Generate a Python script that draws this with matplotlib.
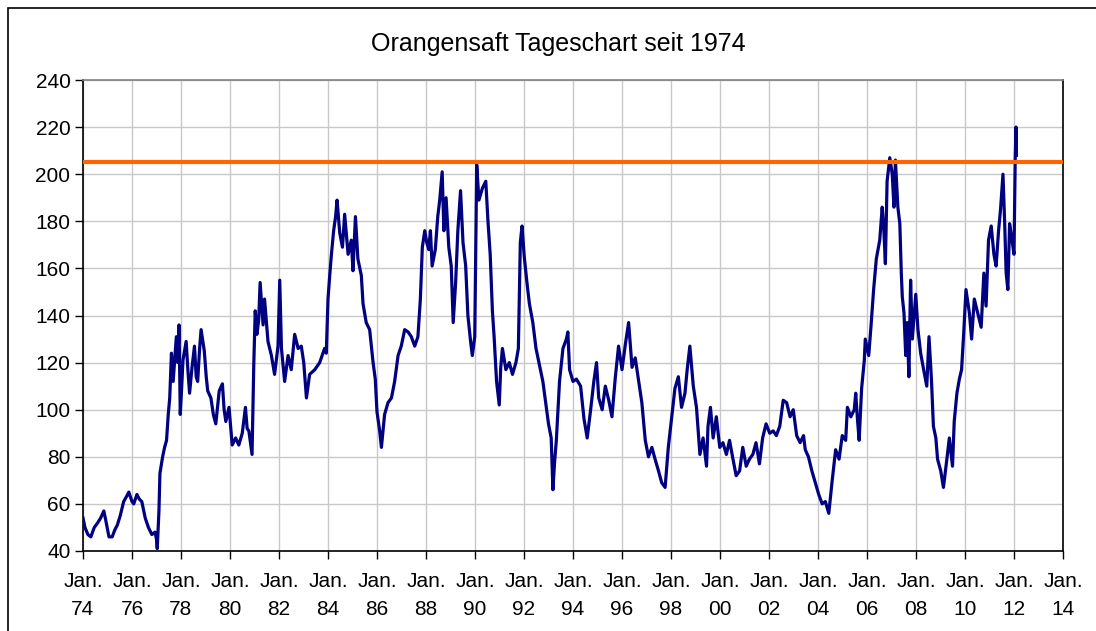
import matplotlib
matplotlib.use("Agg")
import matplotlib.pyplot as plt
from matplotlib.patches import Rectangle

# ---- data (decimal year, price) ----
years = [
    1974.00, 1974.08, 1974.20, 1974.32, 1974.46, 1974.60, 1974.72, 1974.85, 1974.93, 1975.06,
    1975.19, 1975.30, 1975.40, 1975.52, 1975.66, 1975.77, 1975.87, 1976.00, 1976.07, 1976.20,
    1976.30, 1976.40, 1976.54, 1976.67, 1976.81, 1976.94, 1977.00, 1977.03, 1977.10, 1977.14,
    1977.25, 1977.33, 1977.41, 1977.48, 1977.54, 1977.61, 1977.68, 1977.75, 1977.81, 1977.87,
    1977.92, 1977.97, 1978.03, 1978.08, 1978.21, 1978.28, 1978.35, 1978.45, 1978.55, 1978.62,
    1978.68, 1978.76, 1978.82, 1978.95, 1979.03, 1979.09, 1979.22, 1979.32, 1979.42, 1979.56,
    1979.69, 1979.76, 1979.83, 1979.96, 1980.09, 1980.23, 1980.36, 1980.50, 1980.63, 1980.70,
    1980.77, 1980.90, 1980.97, 1981.03, 1981.10, 1981.17, 1981.23, 1981.35, 1981.41, 1981.55,
    1981.69, 1981.82, 1981.96, 1982.03, 1982.10, 1982.23, 1982.37, 1982.50, 1982.64, 1982.78,
    1982.91, 1983.01, 1983.12, 1983.25, 1983.46, 1983.66, 1983.86, 1983.93, 1984.00, 1984.07,
    1984.14, 1984.23, 1984.31, 1984.37, 1984.48, 1984.59, 1984.68, 1984.82, 1984.95, 1985.02,
    1985.12, 1985.22, 1985.36, 1985.43, 1985.56, 1985.70, 1985.84, 1985.93, 1986.00, 1986.11,
    1986.18, 1986.31, 1986.45, 1986.59, 1986.72, 1986.86, 1986.99, 1987.13, 1987.27, 1987.40,
    1987.54, 1987.67, 1987.77, 1987.85, 1987.95, 1988.03, 1988.11, 1988.18, 1988.25, 1988.38,
    1988.48, 1988.56, 1988.66, 1988.73, 1988.82, 1988.93, 1989.03, 1989.11, 1989.21, 1989.30,
    1989.41, 1989.51, 1989.62, 1989.71, 1989.82, 1989.89, 1989.99, 1990.07, 1990.16, 1990.30,
    1990.44, 1990.53, 1990.62, 1990.71, 1990.78, 1990.88, 1990.99, 1991.05, 1991.12, 1991.26,
    1991.40, 1991.53, 1991.67, 1991.77, 1991.85, 1991.92, 1992.01, 1992.12, 1992.22, 1992.36,
    1992.49, 1992.63, 1992.77, 1992.90, 1993.00, 1993.11, 1993.18, 1993.25, 1993.32, 1993.45,
    1993.59, 1993.73, 1993.79, 1993.86, 1994.00, 1994.14, 1994.31, 1994.45, 1994.58, 1994.72,
    1994.85, 1994.96, 1995.05, 1995.19, 1995.32, 1995.46, 1995.59, 1995.73, 1995.86, 1996.00,
    1996.14, 1996.27, 1996.41, 1996.54, 1996.68, 1996.81, 1996.95, 1997.08, 1997.22, 1997.35,
    1997.49, 1997.62, 1997.76, 1997.89, 1998.03, 1998.16, 1998.30, 1998.43, 1998.57, 1998.66,
    1998.77, 1998.91, 1999.04, 1999.18, 1999.31, 1999.45, 1999.51, 1999.61, 1999.72, 1999.85,
    1999.99, 2000.12, 2000.26, 2000.39, 2000.53, 2000.66, 2000.80, 2000.93, 2001.07, 2001.20,
    2001.34, 2001.47, 2001.61, 2001.74, 2001.88, 2002.03, 2002.17, 2002.30, 2002.44, 2002.58,
    2002.72, 2002.86, 2002.99, 2003.13, 2003.27, 2003.41, 2003.48, 2003.61, 2003.75, 2003.89,
    2004.03, 2004.17, 2004.30, 2004.44, 2004.58, 2004.72, 2004.86, 2004.99, 2005.13, 2005.20,
    2005.34, 2005.48, 2005.54, 2005.61, 2005.68, 2005.78, 2005.89, 2005.93, 2006.07, 2006.16,
    2006.27, 2006.38, 2006.52, 2006.62, 2006.68, 2006.75, 2006.82, 2006.93, 2007.03, 2007.10,
    2007.16, 2007.26, 2007.34, 2007.40, 2007.44, 2007.51, 2007.58, 2007.64, 2007.71, 2007.78,
    2007.85, 2007.99, 2008.08, 2008.19, 2008.33, 2008.44, 2008.53, 2008.63, 2008.71, 2008.81,
    2008.88, 2009.01, 2009.12, 2009.26, 2009.36, 2009.49, 2009.56, 2009.67, 2009.77, 2009.86,
    2009.95, 2010.04, 2010.18, 2010.27, 2010.38, 2010.52, 2010.66, 2010.77, 2010.86, 2010.96,
    2011.07, 2011.18, 2011.27, 2011.37, 2011.45, 2011.55, 2011.62, 2011.68, 2011.75, 2011.82,
    2011.92, 2012.00, 2012.05, 2012.08, 2012.10,
]
prices = [
    54, 50, 47, 46, 50, 52, 54, 57, 53, 46,
    46, 49, 51, 55, 61, 63, 65, 61, 60, 64,
    62, 61, 54, 50, 47, 48, 45, 41, 57, 73,
    80, 84, 87, 98, 105, 124, 112, 122, 131, 120,
    136, 98, 110, 121, 129, 117, 107, 118, 127, 114,
    112, 126, 134, 125, 114, 108, 105, 98, 94, 108,
    111, 100, 95, 101, 85, 88, 85, 90, 101, 92,
    91, 81, 119, 142, 132, 138, 154, 136, 147, 129,
    123, 115, 127, 155, 126, 112, 123, 117, 132, 126,
    127, 120, 105, 115, 117, 120, 126, 124, 147, 157,
    166, 176, 182, 189, 175, 169, 183, 166, 172, 159,
    182, 164, 157, 145, 137, 134, 120, 113, 99, 91,
    84, 98, 103, 105, 112, 123, 127, 134, 133, 131,
    127, 131, 147, 169, 176, 171, 168, 176, 161, 168,
    182, 189, 201, 176, 190, 169, 161, 137, 154, 176,
    193, 171, 161, 140, 129, 123, 131, 204, 189, 194,
    197, 180, 166, 142, 131, 112, 102, 118, 126, 117,
    120, 115, 120, 126, 171, 178, 165, 154, 145, 137,
    126, 119, 112, 102, 94, 88, 66, 78, 87, 112,
    126, 130, 133, 117, 112, 113, 110, 96, 88, 100,
    112, 120, 105, 100, 110, 104, 97, 114, 127, 117,
    128, 137, 118, 122, 112, 103, 87, 80, 84, 79,
    74, 69, 67, 84, 97, 109, 114, 101, 107, 117,
    127, 110, 101, 81, 88, 76, 93, 101, 88, 97,
    84, 86, 81, 87, 79, 72, 74, 84, 76, 79,
    81, 86, 77, 88, 94, 90, 91, 89, 93, 104,
    103, 97, 100, 89, 86, 89, 83, 80, 74, 69,
    64, 60, 61, 56, 70, 83, 79, 89, 87, 101,
    97, 100, 107, 96, 87, 109, 121, 130, 123, 135,
    151, 164, 172, 186, 178, 162, 197, 207, 200, 186,
    206, 186, 179, 158, 148, 141, 123, 137, 114, 155,
    130, 149, 134, 124, 116, 110, 131, 113, 93, 88,
    79, 74, 67, 79, 88, 76, 95, 107, 113, 117,
    133, 151, 141, 130, 147, 141, 135, 158, 144, 172,
    178, 166, 161, 176, 185, 200, 179, 158, 151, 179,
    172, 166, 207, 220, 208,
]

resistance = 205
x_ticks = list(range(1974, 2015, 2))
x_labels = ["Jan.\n%02d" % (y % 100) for y in x_ticks]
y_ticks = list(range(40, 241, 20))
title = "Orangensaft Tageschart seit 1974"

plt.rcParams['font.family'] = ['Liberation Sans', 'DejaVu Sans']

fig = plt.figure(figsize=(10.96, 6.31), dpi=100)
ax = fig.add_axes([83/1096, 1 - 551/631, (1063 - 83)/1096, (551 - 80)/631])

ax.plot(years, prices, color='#000080', linewidth=2.3, zorder=3)
ax.axhline(resistance, color='#FF6600', linewidth=3, zorder=4)

ax.set_xlim(1974, 2014)
ax.set_ylim(40, 240)
ax.set_xticks(x_ticks)
ax.set_xticklabels(x_labels, fontsize=15, linespacing=1.6)
ax.set_yticks(y_ticks)
ax.tick_params(axis='y', labelsize=15, direction='out', length=6, width=1, pad=3)
ax.tick_params(axis='x', direction='out', length=6, width=1, pad=9)
ax.grid(True, color='#C8C8C8', linewidth=1, zorder=0)

for s in ['left', 'bottom', 'right']:
    ax.spines[s].set_color('black')
    ax.spines[s].set_linewidth(1.2)
ax.spines['top'].set_color('#808080')
ax.spines['top'].set_linewidth(1.2)

fig.text(558/1096, 1 - 44/631, title, ha='center', va='center', fontsize=18)

fig.patches.append(Rectangle((8/1096, -0.05), 1.1, 1 - 8/631 + 0.05,
                             transform=fig.transFigure, fill=False,
                             edgecolor='black', linewidth=1.2))

fig.savefig('out.png', dpi=100)
